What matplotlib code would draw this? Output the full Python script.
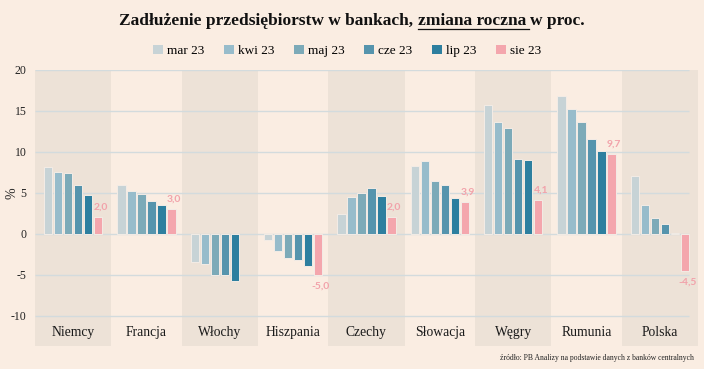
import numpy as np
import matplotlib
matplotlib.use('Agg')
import matplotlib.pyplot as plt
from matplotlib.patches import Patch

countries = ['Niemcy', 'Francja', 'Włochy', 'Hiszpania', 'Czechy',
             'Słowacja', 'Węgry', 'Rumunia', 'Polska']
months = ['mar 23', 'kwi 23', 'maj 23', 'cze 23', 'lip 23', 'sie 23']

mar23 = [8.1, 6.0, -3.5, -0.7, 2.4, 8.3, 15.7, 16.8, 7.1]
kwi23 = [7.5, 5.2, -3.7, -2.1, 4.5, 8.9, 13.6, 15.2, 3.5]
maj23 = [7.4, 4.8, -5.0, -2.9, 5.0, 6.4, 12.9, 13.7, 1.9]
cze23 = [5.9, 4.0, -5.0, -3.2, 5.6, 5.9, 9.1, 11.6, 1.2]
lip23 = [4.7, 3.5, -5.8, -3.9, 4.6, 4.4, 9.0, 10.1, 0.15]
sie23 = [2.0, 3.0, None, -5.0, 2.0, 3.9, 4.1, 9.7, -4.5]

series = [mar23, kwi23, maj23, cze23, lip23, sie23]
colors = ['#c7d3d6', '#97bccb', '#7caab8', '#5594ad', '#2d7f9f', '#f4a6ad']

BG = '#faede2'
BAND = '#ede2d7'
SERIF = ['Liberation Serif', 'DejaVu Serif']

fig = plt.figure(figsize=(7.04, 3.69), dpi=100, facecolor=BG)
ax = fig.add_axes([35 / 704, 1 - 346 / 369, 663 / 704, 276 / 369])
ax.set_facecolor(BG)

n = len(countries)
x = np.arange(n)
ax.set_xlim(-0.52, n - 0.48)
ax.set_ylim(-13.7, 20)

# alternating shaded bands
for i in range(0, n, 2):
    ax.axvspan(i - 0.52, i + 0.52, color=BAND, lw=0, zorder=0)

# gridlines
yt = [20, 15, 10, 5, 0, -5, -10]
ax.hlines(yt, -0.52, n - 0.6, color='#d3dbdd', lw=1.0, zorder=1)

pitch = 0.136
width = 0.112
for k, (vals, col) in enumerate(zip(series, colors)):
    xs = x + (k - 2.5) * pitch
    v = np.array([np.nan if a is None else a for a in vals], dtype=float)
    ax.bar(xs, v, width=width, color=col, edgecolor='#f3ece6', lw=0.7, zorder=2)

# labels for the last month
for xi, val in zip(x, sie23):
    if val is None:
        continue
    xs = xi + 2.5 * pitch
    lbl = f'{val:.1f}'.replace('.', ',')
    off = (2, 4) if val >= 0 else (2, -5)
    ax.annotate(lbl, (xs, val), xytext=off, textcoords='offset points',
                ha='center', va='bottom' if val >= 0 else 'top',
                color='#f2a2aa', fontsize=7.5, fontweight='bold',
                family=['Lato', 'DejaVu Sans'], zorder=3)

# category labels inside the plot area
for xi, c in zip(x, countries):
    ax.text(xi, -12.1, c, ha='center', va='center', fontsize=9.8,
            family=SERIF, color='#1a1a1a')

ax.set_xticks([])
ax.set_yticks(yt)
ax.set_yticklabels([str(t) for t in yt], family=SERIF, fontsize=8.5, color='#222222')
ax.tick_params(axis='y', length=0, pad=6)
for s in ax.spines.values():
    s.set_visible(False)

fig.text(12 / 704, 1 - 193 / 369, '%', rotation=90, ha='center', va='center',
         family=SERIF, fontsize=10, color='#222222')

# legend
handles = [Patch(facecolor=c, edgecolor='none') for c in colors]
fig.legend(handles, months, loc='center', bbox_to_anchor=(347 / 704, 1 - 51 / 369),
           ncol=6, frameon=False, prop={'family': SERIF, 'size': 9.5},
           handlelength=0.75, handleheight=0.75, handletextpad=0.3,
           columnspacing=1.5)

# title with underlined part
part1 = 'Zadłużenie przedsiębiorstw w bankach, '
part2 = 'zmiana roczna '
part3 = 'w proc.'
title_kw = dict(family=SERIF, fontsize=12.5, fontweight='bold', color='#111111',
                va='baseline')
ty = 1 - 25 / 369
fig.canvas.draw()
r = fig.canvas.get_renderer()


def text_width(s):
    t = fig.text(0, 0, s + '|', **title_kw)
    w = t.get_window_extent(r).width
    t.remove()
    t = fig.text(0, 0, '|', **title_kw)
    w -= t.get_window_extent(r).width
    t.remove()
    return w


w1 = text_width(part1)
w2 = text_width(part2)
w3 = text_width(part3)
total = w1 + w2 + w3
x0 = 352 - total / 2
fig.text(x0 / 704, ty, part1, **title_kw)
fig.text((x0 + w1) / 704, ty, part2, **title_kw)
fig.text((x0 + w1 + w2) / 704, ty, part3, **title_kw)
fig.add_artist(plt.Line2D([(x0 + w1) / 704, (x0 + w1 + w2 - 1) / 704],
                          [ty - 3.5 / 369, ty - 3.5 / 369],
                          color='#111111', lw=0.9, transform=fig.transFigure))

fig.text(694 / 704, 1 - 358 / 369,
         'źródło: PB Analizy na podstawie danych z banków centralnych',
         ha='right', va='center', family=SERIF, fontsize=5.5, color='#222222')

fig.savefig('out.png', dpi=100, facecolor=BG)
